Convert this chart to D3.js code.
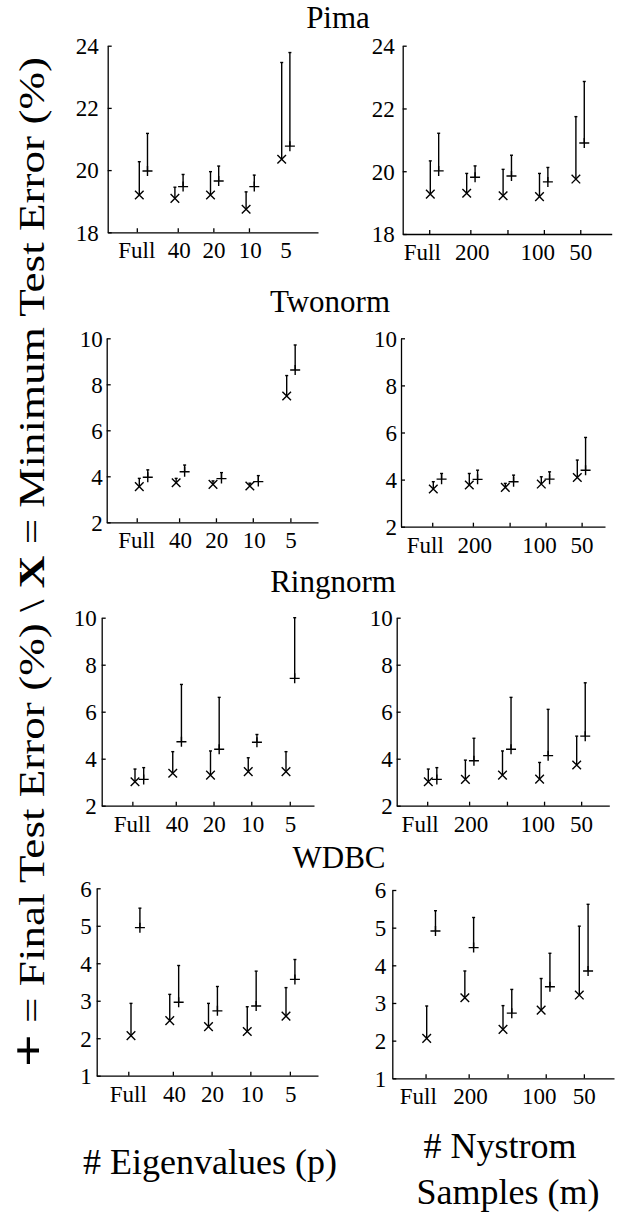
<!DOCTYPE html>
<html lang="en">
<head>
<meta charset="utf-8">
<title>Final vs minimum test error</title>
<script src="https://d3js.org/d3.v7.min.js"></script>
<style>
  body { margin: 0; background: #fff; }
  .axis path, .axis line { stroke: #000; stroke-width: 1.3; }
  .mark { stroke: #000; stroke-width: 1.4; fill: none; }
</style>
</head>
<body>
<div id="chart"></div>
<script>
// category labels
var eigLabels = ["Full", "40", "20", "10", "5"];
var nysLabels = ["Full", "200", "100", "50"];
var titles = ["Pima", "Twonorm", "Ringnorm", "WDBC"];

// y ticks per dataset
var pimaTicks = [18, 20, 22, 24];
var twoTicks = [2, 4, 6, 8, 10];
var ringTicks = [2, 4, 6, 8, 10];
var wdbcTicks = [1, 2, 3, 4, 5, 6];

// X = minimum test error, + = final test error, *Top = upper end of the bar
var pimaEigMin = [19.2, 19.09, 19.2, 18.74, 20.35];
var pimaEigMinTop = [20.27, 19.45, 19.95, 19.3, 23.46];
var pimaEigFin = [19.97, 19.47, 19.65, 19.47, 20.77];
var pimaEigFinTop = [21.18, 19.86, 20.13, 19.84, 23.78];

var pimaNysMin = [19.27, 19.3, 19.22, 19.19, 19.75];
var pimaNysMinTop = [20.33, 19.93, 20.06, 19.93, 21.74];
var pimaNysFin = [20.01, 19.81, 19.85, 19.66, 20.9];
var pimaNysFinTop = [21.21, 20.17, 20.51, 20.12, 22.86];

var twoEigMin = [3.55, 3.72, 3.65, 3.58, 7.49];
var twoEigMinTop = [3.91, 3.91, 3.8, 3.7, 8.38];
var twoEigFin = [3.96, 4.2, 3.9, 3.77, 8.62];
var twoEigFinTop = [4.28, 4.49, 4.16, 4.03, 9.71];

var twoNysMin = [3.6, 3.77, 3.67, 3.81, 4.09];
var twoNysMinTop = [3.91, 4.26, 3.84, 4.12, 4.83];
var twoNysFin = [4.02, 4.01, 3.91, 4.02, 4.4];
var twoNysFinTop = [4.26, 4.4, 4.19, 4.33, 5.79];

var ringEigMin = [3.02, 3.38, 3.3, 3.45, 3.45];
var ringEigMinTop = [3.56, 4.3, 4.33, 4.04, 4.3];
var ringEigFin = [3.12, 4.72, 4.4, 4.7, 7.42];
var ringEigFinTop = [3.62, 7.16, 6.61, 5.03, 10.0];

var ringNysMin = [3.02, 3.12, 3.3, 3.13, 3.73];
var ringNysMinTop = [3.56, 3.94, 4.33, 3.84, 4.96];
var ringNysFin = [3.12, 3.91, 4.4, 4.13, 4.96];
var ringNysFinTop = [3.62, 4.87, 6.61, 6.1, 7.23];

var wdbcEigMin = [2.07, 2.47, 2.31, 2.18, 2.59];
var wdbcEigMinTop = [2.93, 3.17, 2.93, 2.84, 3.35];
var wdbcEigFin = [4.95, 2.96, 2.73, 2.86, 3.57];
var wdbcEigFinTop = [5.47, 3.94, 3.38, 3.79, 4.1];

var wdbcNysMin = [2.06, 3.14, 2.3, 2.81, 3.21];
var wdbcNysMinTop = [2.92, 3.85, 2.93, 3.65, 5.04];
var wdbcNysFin = [4.91, 4.47, 2.73, 3.43, 3.85];
var wdbcNysFinTop = [5.45, 5.27, 3.36, 4.32, 5.62];

var width = 624, height = 1218;
var serif = "Liberation Serif";

var svg = d3.select("#chart").append("svg")
    .attr("width", width)
    .attr("height", height);

// layout of the eight panels (pixels), a/b map category index -> x
var boxes = [
  {x0: 107.7, x1: 318, yTop: 45.7, yBot: 232.3, a: 103.7, b: 35.6, gap: 9},
  {x0: 402.7, x1: 611.7, yTop: 45.7, yBot: 234, a: 393.9, b: 36.4, gap: 8},
  {x0: 106.7, x1: 318, yTop: 338.3, yBot: 522.3, a: 102.45, b: 36.85, gap: 4},
  {x0: 401, x1: 605, yTop: 338.3, yBot: 526.7, a: 397.3, b: 36, gap: 4},
  {x0: 101.7, x1: 314, yTop: 617.7, yBot: 805.7, a: 97.25, b: 37.75, gap: 5},
  {x0: 396.7, x1: 609.3, yTop: 617.7, yBot: 805.7, a: 391.2, b: 37.1, gap: 4},
  {x0: 96.7, x1: 318, yTop: 888.3, yBot: 1075.7, a: 92.25, b: 38.75, gap: 5},
  {x0: 392.3, x1: 614, yTop: 890, yBot: 1078.3, a: 388.55, b: 38.15, gap: 6}
];
var leftTickPos = [0.93, 2.08, 3.08, 4.08, 5.1];
var leftLabelPos = [0.93, 2.12, 3.1, 4.12, 5.12];
var rightTickPos = [0.97, 2.1, 3.12, 4.12, 5.12];
var rightLabelPos = [0.78, 2.15, 3.95, 5.13];
var finShift = 0.23;
var titlePos = [{x: 338, y: 28}, {x: 330, y: 312}, {x: 333, y: 592}, {x: 339, y: 868}];

var panels = [
  {yTicks: pimaTicks, min: pimaEigMin, minTop: pimaEigMinTop, fin: pimaEigFin, finTop: pimaEigFinTop, labels: eigLabels, side: "L"},
  {yTicks: pimaTicks, min: pimaNysMin, minTop: pimaNysMinTop, fin: pimaNysFin, finTop: pimaNysFinTop, labels: nysLabels, side: "R"},
  {yTicks: twoTicks, min: twoEigMin, minTop: twoEigMinTop, fin: twoEigFin, finTop: twoEigFinTop, labels: eigLabels, side: "L"},
  {yTicks: twoTicks, min: twoNysMin, minTop: twoNysMinTop, fin: twoNysFin, finTop: twoNysFinTop, labels: nysLabels, side: "R"},
  {yTicks: ringTicks, min: ringEigMin, minTop: ringEigMinTop, fin: ringEigFin, finTop: ringEigFinTop, labels: eigLabels, side: "L"},
  {yTicks: ringTicks, min: ringNysMin, minTop: ringNysMinTop, fin: ringNysFin, finTop: ringNysFinTop, labels: nysLabels, side: "R"},
  {yTicks: wdbcTicks, min: wdbcEigMin, minTop: wdbcEigMinTop, fin: wdbcEigFin, finTop: wdbcEigFinTop, labels: eigLabels, side: "L"},
  {yTicks: wdbcTicks, min: wdbcNysMin, minTop: wdbcNysMinTop, fin: wdbcNysFin, finTop: wdbcNysFinTop, labels: nysLabels, side: "R"}
];

panels.forEach(function(p, k) {
  var box = boxes[k];
  var x = d3.scaleLinear().domain([0, 6]).range([box.a, box.a + 6 * box.b]);
  var xAxisScale = d3.scaleLinear()
      .domain([x.invert(box.x0), x.invert(box.x1)])
      .range([box.x0, box.x1]);
  var y = d3.scaleLinear()
      .domain(d3.extent(p.yTicks))
      .range([box.yBot, box.yTop]);
  var tickPos = p.side == "L" ? leftTickPos : rightTickPos;
  var labelPos = p.side == "L" ? leftLabelPos : rightLabelPos;
  if (k == 0) tickPos = tickPos.slice(0, 4); // no tick under "5" on the first panel

  var g = svg.append("g");

  g.append("g")
      .attr("class", "axis")
      .attr("transform", "translate(0," + box.yBot + ")")
      .call(d3.axisBottom(xAxisScale).tickValues(tickPos)
          .tickSizeInner(-4).tickSizeOuter(0).tickFormat(""));

  var ya = g.append("g")
      .attr("class", "axis")
      .attr("transform", "translate(" + box.x0 + ",0)")
      .call(d3.axisLeft(y).tickValues(p.yTicks)
          .tickSizeInner(-4).tickSizeOuter(0).tickPadding(box.gap)
          .tickFormat(d3.format("d")));
  ya.attr("font-size", 23).attr("font-family", serif);
  ya.selectAll("text")
      .attr("font-family", serif)
      .attr("font-size", 23)
      .attr("dy", "0.34em");

  g.selectAll(".xlab")
      .data(p.labels)
      .enter()
      .append("text")
      .attr("font-family", serif)
      .attr("font-size", 23)
      .attr("x", function(d, i) { return x(labelPos[i]); })
      .attr("y", box.yBot + 26)
      .attr("text-anchor", "middle")
      .text(function(d) { return d; });

  var idx = d3.range(p.min.length);

  // error bars, drawn upward from the marker
  function bars(vals, tops, shift) {
    g.selectAll(null).data(idx).enter().append("line")
        .attr("class", "mark")
        .attr("x1", function(i) { return x(i + 1 + shift); })
        .attr("x2", function(i) { return x(i + 1 + shift); })
        .attr("y1", function(i) { return y(vals[i]); })
        .attr("y2", function(i) { return y(tops[i]); });
    g.selectAll(null).data(idx).enter().append("line")
        .attr("class", "mark")
        .attr("x1", function(i) { return x(i + 1 + shift) - 1.5; })
        .attr("x2", function(i) { return x(i + 1 + shift) + 1.5; })
        .attr("y1", function(i) { return y(tops[i]); })
        .attr("y2", function(i) { return y(tops[i]); });
  }
  bars(p.min, p.minTop, 0);
  bars(p.fin, p.finTop, finShift);

  g.selectAll(null).data(idx).enter().append("path")
      .attr("class", "mark")
      .attr("d", "M-4.3,-4.3L4.3,4.3M-4.3,4.3L4.3,-4.3")
      .attr("transform", function(i) { return "translate(" + x(i + 1) + "," + y(p.min[i]) + ")"; });

  g.selectAll(null).data(idx).enter().append("path")
      .attr("class", "mark")
      .attr("d", "M-5,0H5M0,-5V5")
      .attr("transform", function(i) { return "translate(" + x(i + 1 + finShift) + "," + y(p.fin[i]) + ")"; });
});

svg.selectAll(".title_text")
    .data(titles)
    .enter()
    .append("text")
    .attr("font-family", serif)
    .attr("font-size", 31)
    .attr("x", function(d, i) { return titlePos[i].x; })
    .attr("y", function(d, i) { return titlePos[i].y; })
    .attr("text-anchor", "middle")
    .text(function(d) { return d; });

function bigLabel(str, xx, yy) {
  svg.append("text")
      .attr("font-family", serif)
      .attr("font-size", 36)
      .attr("x", xx)
      .attr("y", yy)
      .attr("text-anchor", "middle")
      .text(str);
}
bigLabel("# Eigenvalues (p)", 210, 1174);
bigLabel("# Nystrom", 500, 1158);
bigLabel("Samples (m)", 508, 1204);

// y label, stretched along its length like the original figure
var yl = svg.append("text")
    .attr("font-family", serif)
    .attr("font-size", 36)
    .attr("transform", "translate(44,562) rotate(-90)")
    .attr("text-anchor", "middle")
    .attr("textLength", 1010)
    .attr("lengthAdjust", "spacingAndGlyphs");
yl.append("tspan").attr("font-weight", "bold").attr("font-size", 46).text("+");
yl.append("tspan").text(" = Final Test Error (%)  \\  ");
yl.append("tspan").attr("font-weight", "bold").text("X");
yl.append("tspan").text(" = Minimum Test Error (%)");
</script>
</body>
</html>
